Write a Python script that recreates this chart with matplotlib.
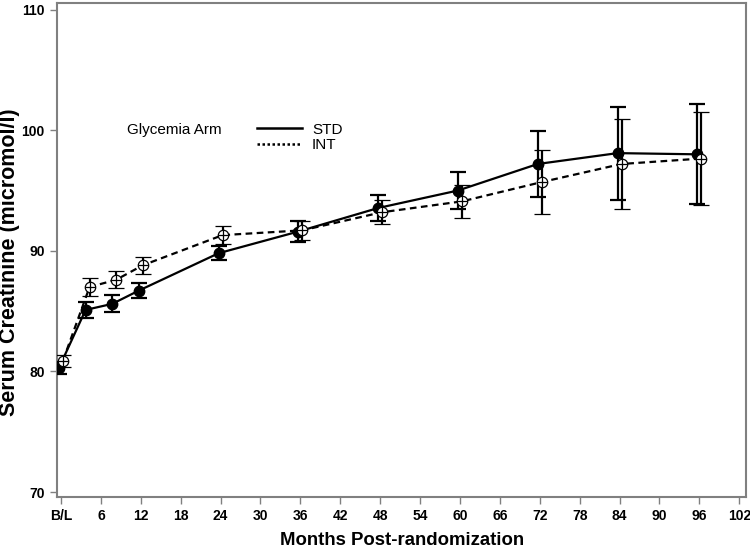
import matplotlib.pyplot as plt
from matplotlib.lines import Line2D
import numpy as np

# months of each visit (B/L = 0)
months = [0, 4, 8, 12, 24, 36, 48, 60, 72, 84, 96]
std_mean = [80.3, 85.1, 85.6, 86.7, 89.8, 91.6, 93.55, 95.0, 97.2, 98.1, 98.0]
std_err = [0.5, 0.65, 0.7, 0.65, 0.6, 0.9, 1.05, 1.5, 2.7, 3.85, 4.15]
int_mean = [80.9, 87.0, 87.6, 88.8, 91.3, 91.7, 93.2, 94.1, 95.7, 97.2, 97.65]
int_err = [0.5, 0.75, 0.7, 0.7, 0.75, 0.8, 1.0, 1.35, 2.65, 3.7, 3.85]

xticks = list(range(0, 103, 6))
xtick_labels = ['B/L'] + [str(t) for t in xticks[1:]]
yticks = [70, 80, 90, 100, 110]

plt.rcParams['font.family'] = ['Liberation Sans', 'DejaVu Sans']

fig = plt.figure(figsize=(7.5, 5.5), dpi=100)
ax = fig.add_axes([0.076, 0.0964, 0.919, 0.898])

x = np.array(months, dtype=float)
off = 0.3

# STD: solid line, filled circles
ax.errorbar(x - off, std_mean, yerr=std_err, color='black', lw=1.6,
            ls='-', marker='o', ms=7.5, mfc='black', mec='black',
            ecolor='black', elinewidth=1.6, capsize=5.5, capthick=1.6, zorder=3)

# INT: dashed line, open circle with cross
ax.errorbar(x + off, int_mean, yerr=int_err, color='black', lw=1.6,
            ls=(0, (3, 2)), marker='o', ms=7.5, mfc='white', mec='black', mew=0.9,
            ecolor='black', elinewidth=1.6, capsize=5.5, capthick=1.6, zorder=4)
ax.plot(x + off, int_mean, ls='none', marker='+', ms=7.5, mew=0.9, color='black', zorder=5)

ax.set_xlim(-0.6, 103.05)
ax.set_ylim(69.59, 110.54)
ax.set_xticks(xticks)
ax.set_xticklabels(xtick_labels, fontweight='bold', fontsize=10)
ax.set_yticks(yticks)
ax.set_yticklabels([str(t) for t in yticks], fontweight='bold', fontsize=10)
ax.tick_params(direction='out', length=5, width=1, color='#808080', pad=4)

for s in ax.spines.values():
    s.set_color('#808080')
    s.set_linewidth(1.5)

ax.set_xlabel('Months Post-randomization', fontsize=13.4, fontweight='bold', labelpad=6)
ax.set_ylabel('Serum Creatinine (micromol/l)', fontsize=15.5, fontweight='bold')
ax.yaxis.set_label_coords(-0.054, 0.475)

# legend
ax.text(0.1016, 0.743, 'Glycemia Arm', transform=ax.transAxes, fontsize=11, va='center')
handles = [Line2D([], [], color='black', lw=1.8, ls='-'),
           Line2D([], [], color='black', lw=1.8, ls=(0, (1, 1)))]
ax.legend(handles, ['STD', 'INT'], loc='center left', bbox_to_anchor=(0.29, 0.728),
          frameon=False, fontsize=11, handlelength=2.95, handletextpad=0.65,
          labelspacing=0.12, borderpad=0, borderaxespad=0)

fig.savefig('out.png', dpi=100)
